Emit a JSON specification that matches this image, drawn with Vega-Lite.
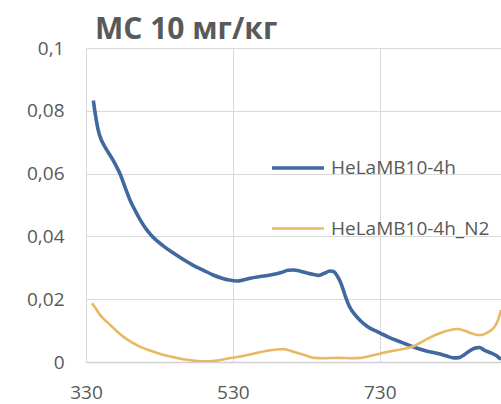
{
  "$schema": "https://vega.github.io/schema/vega-lite/v6.json",
  "width": 415,
  "height": 314,
  "autosize": {"type": "none"},
  "padding": {"left": 86, "top": 48, "right": 0, "bottom": 42},
  "background": "white",
  "title": {
    "text": "МС 10 мг/кг",
    "anchor": "start",
    "frame": "group",
    "font": "Open Sans",
    "fontSize": 30,
    "fontWeight": "bold",
    "color": "#595959",
    "dx": 9,
    "offset": -6
  },
  "config": {
    "view": {"stroke": null},
    "axis": {
      "labelFont": "Open Sans",
      "labelFontSize": 19,
      "labelColor": "#595959",
      "gridColor": "#d9d9d9",
      "gridWidth": 1,
      "ticks": false,
      "title": null
    }
  },
  "data": {
    "values": [
      {"wl": 340, "abs": 0.0833, "series": "HeLaMB10-4h"},
      {"wl": 343, "abs": 0.0785, "series": "HeLaMB10-4h"},
      {"wl": 346, "abs": 0.0745, "series": "HeLaMB10-4h"},
      {"wl": 350, "abs": 0.0712, "series": "HeLaMB10-4h"},
      {"wl": 355, "abs": 0.0688, "series": "HeLaMB10-4h"},
      {"wl": 361, "abs": 0.0665, "series": "HeLaMB10-4h"},
      {"wl": 367, "abs": 0.0642, "series": "HeLaMB10-4h"},
      {"wl": 372, "abs": 0.0620, "series": "HeLaMB10-4h"},
      {"wl": 376, "abs": 0.0601, "series": "HeLaMB10-4h"},
      {"wl": 383, "abs": 0.0558, "series": "HeLaMB10-4h"},
      {"wl": 390, "abs": 0.0515, "series": "HeLaMB10-4h"},
      {"wl": 397, "abs": 0.0482, "series": "HeLaMB10-4h"},
      {"wl": 404, "abs": 0.0452, "series": "HeLaMB10-4h"},
      {"wl": 412, "abs": 0.0423, "series": "HeLaMB10-4h"},
      {"wl": 421, "abs": 0.0398, "series": "HeLaMB10-4h"},
      {"wl": 435, "abs": 0.0370, "series": "HeLaMB10-4h"},
      {"wl": 449, "abs": 0.0347, "series": "HeLaMB10-4h"},
      {"wl": 462, "abs": 0.0327, "series": "HeLaMB10-4h"},
      {"wl": 476, "abs": 0.0308, "series": "HeLaMB10-4h"},
      {"wl": 490, "abs": 0.0292, "series": "HeLaMB10-4h"},
      {"wl": 503, "abs": 0.0277, "series": "HeLaMB10-4h"},
      {"wl": 515, "abs": 0.0267, "series": "HeLaMB10-4h"},
      {"wl": 525, "abs": 0.0261, "series": "HeLaMB10-4h"},
      {"wl": 536, "abs": 0.0258, "series": "HeLaMB10-4h"},
      {"wl": 545, "abs": 0.0262, "series": "HeLaMB10-4h"},
      {"wl": 554, "abs": 0.0267, "series": "HeLaMB10-4h"},
      {"wl": 567, "abs": 0.0272, "series": "HeLaMB10-4h"},
      {"wl": 581, "abs": 0.0277, "series": "HeLaMB10-4h"},
      {"wl": 596, "abs": 0.0285, "series": "HeLaMB10-4h"},
      {"wl": 605, "abs": 0.0292, "series": "HeLaMB10-4h"},
      {"wl": 613, "abs": 0.0293, "series": "HeLaMB10-4h"},
      {"wl": 622, "abs": 0.0289, "series": "HeLaMB10-4h"},
      {"wl": 632, "abs": 0.0283, "series": "HeLaMB10-4h"},
      {"wl": 640, "abs": 0.0279, "series": "HeLaMB10-4h"},
      {"wl": 647, "abs": 0.0276, "series": "HeLaMB10-4h"},
      {"wl": 655, "abs": 0.0283, "series": "HeLaMB10-4h"},
      {"wl": 662, "abs": 0.0290, "series": "HeLaMB10-4h"},
      {"wl": 667, "abs": 0.0288, "series": "HeLaMB10-4h"},
      {"wl": 673, "abs": 0.0270, "series": "HeLaMB10-4h"},
      {"wl": 678, "abs": 0.0245, "series": "HeLaMB10-4h"},
      {"wl": 683, "abs": 0.0210, "series": "HeLaMB10-4h"},
      {"wl": 689, "abs": 0.0175, "series": "HeLaMB10-4h"},
      {"wl": 695, "abs": 0.0154, "series": "HeLaMB10-4h"},
      {"wl": 703, "abs": 0.0133, "series": "HeLaMB10-4h"},
      {"wl": 713, "abs": 0.0113, "series": "HeLaMB10-4h"},
      {"wl": 727, "abs": 0.0096, "series": "HeLaMB10-4h"},
      {"wl": 741, "abs": 0.0080, "series": "HeLaMB10-4h"},
      {"wl": 758, "abs": 0.0064, "series": "HeLaMB10-4h"},
      {"wl": 776, "abs": 0.0048, "series": "HeLaMB10-4h"},
      {"wl": 792, "abs": 0.0036, "series": "HeLaMB10-4h"},
      {"wl": 809, "abs": 0.0027, "series": "HeLaMB10-4h"},
      {"wl": 820, "abs": 0.0020, "series": "HeLaMB10-4h"},
      {"wl": 831, "abs": 0.0013, "series": "HeLaMB10-4h"},
      {"wl": 838, "abs": 0.0014, "series": "HeLaMB10-4h"},
      {"wl": 846, "abs": 0.0025, "series": "HeLaMB10-4h"},
      {"wl": 854, "abs": 0.0038, "series": "HeLaMB10-4h"},
      {"wl": 861, "abs": 0.0045, "series": "HeLaMB10-4h"},
      {"wl": 866, "abs": 0.0046, "series": "HeLaMB10-4h"},
      {"wl": 872, "abs": 0.0038, "series": "HeLaMB10-4h"},
      {"wl": 881, "abs": 0.0029, "series": "HeLaMB10-4h"},
      {"wl": 889, "abs": 0.0020, "series": "HeLaMB10-4h"},
      {"wl": 895, "abs": 0.0008, "series": "HeLaMB10-4h"},
      {"wl": 338, "abs": 0.0187, "series": "HeLaMB10-4h_N2"},
      {"wl": 342, "abs": 0.0175, "series": "HeLaMB10-4h_N2"},
      {"wl": 349, "abs": 0.0150, "series": "HeLaMB10-4h_N2"},
      {"wl": 356, "abs": 0.0133, "series": "HeLaMB10-4h_N2"},
      {"wl": 363, "abs": 0.0118, "series": "HeLaMB10-4h_N2"},
      {"wl": 372, "abs": 0.0098, "series": "HeLaMB10-4h_N2"},
      {"wl": 381, "abs": 0.0080, "series": "HeLaMB10-4h_N2"},
      {"wl": 392, "abs": 0.0063, "series": "HeLaMB10-4h_N2"},
      {"wl": 404, "abs": 0.0048, "series": "HeLaMB10-4h_N2"},
      {"wl": 415, "abs": 0.0038, "series": "HeLaMB10-4h_N2"},
      {"wl": 427, "abs": 0.0029, "series": "HeLaMB10-4h_N2"},
      {"wl": 440, "abs": 0.0020, "series": "HeLaMB10-4h_N2"},
      {"wl": 454, "abs": 0.0013, "series": "HeLaMB10-4h_N2"},
      {"wl": 468, "abs": 0.0007, "series": "HeLaMB10-4h_N2"},
      {"wl": 482, "abs": 0.0003, "series": "HeLaMB10-4h_N2"},
      {"wl": 492, "abs": 0.0002, "series": "HeLaMB10-4h_N2"},
      {"wl": 503, "abs": 0.0003, "series": "HeLaMB10-4h_N2"},
      {"wl": 515, "abs": 0.0007, "series": "HeLaMB10-4h_N2"},
      {"wl": 527, "abs": 0.0013, "series": "HeLaMB10-4h_N2"},
      {"wl": 538, "abs": 0.0017, "series": "HeLaMB10-4h_N2"},
      {"wl": 550, "abs": 0.0022, "series": "HeLaMB10-4h_N2"},
      {"wl": 563, "abs": 0.0029, "series": "HeLaMB10-4h_N2"},
      {"wl": 577, "abs": 0.0036, "series": "HeLaMB10-4h_N2"},
      {"wl": 590, "abs": 0.0040, "series": "HeLaMB10-4h_N2"},
      {"wl": 599, "abs": 0.0041, "series": "HeLaMB10-4h_N2"},
      {"wl": 608, "abs": 0.0036, "series": "HeLaMB10-4h_N2"},
      {"wl": 618, "abs": 0.0029, "series": "HeLaMB10-4h_N2"},
      {"wl": 630, "abs": 0.0020, "series": "HeLaMB10-4h_N2"},
      {"wl": 640, "abs": 0.0013, "series": "HeLaMB10-4h_N2"},
      {"wl": 655, "abs": 0.0012, "series": "HeLaMB10-4h_N2"},
      {"wl": 673, "abs": 0.0013, "series": "HeLaMB10-4h_N2"},
      {"wl": 690, "abs": 0.0012, "series": "HeLaMB10-4h_N2"},
      {"wl": 704, "abs": 0.0013, "series": "HeLaMB10-4h_N2"},
      {"wl": 718, "abs": 0.0020, "series": "HeLaMB10-4h_N2"},
      {"wl": 731, "abs": 0.0027, "series": "HeLaMB10-4h_N2"},
      {"wl": 742, "abs": 0.0033, "series": "HeLaMB10-4h_N2"},
      {"wl": 754, "abs": 0.0038, "series": "HeLaMB10-4h_N2"},
      {"wl": 765, "abs": 0.0043, "series": "HeLaMB10-4h_N2"},
      {"wl": 776, "abs": 0.0050, "series": "HeLaMB10-4h_N2"},
      {"wl": 788, "abs": 0.0065, "series": "HeLaMB10-4h_N2"},
      {"wl": 800, "abs": 0.0080, "series": "HeLaMB10-4h_N2"},
      {"wl": 809, "abs": 0.0089, "series": "HeLaMB10-4h_N2"},
      {"wl": 817, "abs": 0.0096, "series": "HeLaMB10-4h_N2"},
      {"wl": 826, "abs": 0.0102, "series": "HeLaMB10-4h_N2"},
      {"wl": 836, "abs": 0.0105, "series": "HeLaMB10-4h_N2"},
      {"wl": 845, "abs": 0.0100, "series": "HeLaMB10-4h_N2"},
      {"wl": 854, "abs": 0.0092, "series": "HeLaMB10-4h_N2"},
      {"wl": 861, "abs": 0.0087, "series": "HeLaMB10-4h_N2"},
      {"wl": 868, "abs": 0.0086, "series": "HeLaMB10-4h_N2"},
      {"wl": 875, "abs": 0.0092, "series": "HeLaMB10-4h_N2"},
      {"wl": 882, "abs": 0.0102, "series": "HeLaMB10-4h_N2"},
      {"wl": 887, "abs": 0.0115, "series": "HeLaMB10-4h_N2"},
      {"wl": 891, "abs": 0.0134, "series": "HeLaMB10-4h_N2"},
      {"wl": 895, "abs": 0.0165, "series": "HeLaMB10-4h_N2"}
    ]
  },
  "mark": {"type": "line", "clip": true, "interpolate": "monotone"},
  "encoding": {
    "x": {
      "field": "wl",
      "type": "quantitative",
      "scale": {"domain": [330, 895], "nice": false, "zero": false},
      "axis": {
        "values": [330, 530, 730],
        "domain": true,
        "domainColor": "#cfcfd4",
        "domainWidth": 1.5,
        "labelPadding": 21,
        "labelFlush": false
      }
    },
    "y": {
      "field": "abs",
      "type": "quantitative",
      "scale": {"domain": [0, 0.1], "nice": false},
      "axis": {
        "values": [0, 0.02, 0.04, 0.06, 0.08, 0.1],
        "domain": false,
        "labelPadding": 22,
        "labelExpr": "replace(format(datum.value, '.2~f'), '.', ',')"
      }
    },
    "strokeWidth": {
      "field": "series",
      "type": "nominal",
      "scale": {
        "domain": ["HeLaMB10-4h", "HeLaMB10-4h_N2"],
        "range": [3.6, 2.6]
      },
      "legend": null
    },
    "color": {
      "field": "series",
      "type": "nominal",
      "scale": {
        "domain": ["HeLaMB10-4h", "HeLaMB10-4h_N2"],
        "range": ["#41689f", "#e8b865"]
      },
      "legend": {
        "title": null,
        "orient": "none",
        "legendX": 184,
        "legendY": 92,
        "symbolType": "stroke",
        "symbolSize": 2704,
        "symbolStrokeWidth": 4,
        "labelFont": "Open Sans",
        "labelFontSize": 19,
        "labelColor": "#595959",
        "labelOffset": 5,
        "rowPadding": 23,
        "padding": 0
      }
    }
  }
}
